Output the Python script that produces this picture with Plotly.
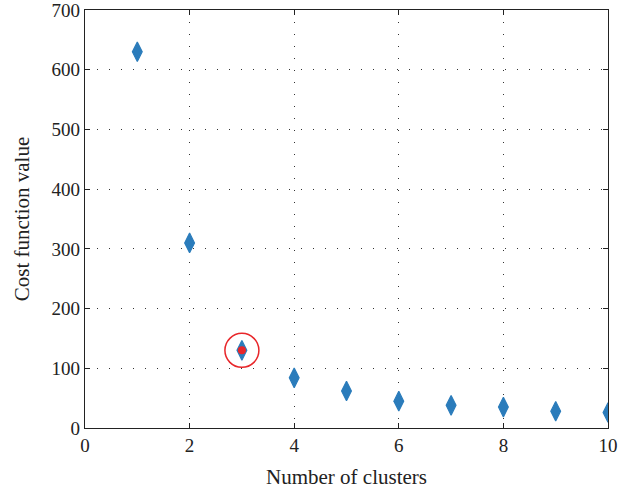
import plotly.graph_objects as go

clusters = [1, 2, 3, 4, 5, 6, 7, 8, 9, 10]
cost = [630, 310, 130, 84, 62, 45, 38, 35, 28, 26]
opt_k = [3]
opt_cost = [130]
x_ticks = [0, 2, 4, 6, 8, 10]
y_ticks = [0, 100, 200, 300, 400, 500, 600, 700]

blue = "#2B7CBB"
red = "#E8262A"
font = "Liberation Serif"

fig = go.Figure()
fig.add_trace(go.Scatter(
    x=clusters, y=cost, mode="markers",
    marker=dict(symbol="diamond-tall", size=14, color=blue, line=dict(width=1.2, color=blue)),
    showlegend=False))
fig.add_trace(go.Scatter(
    x=opt_k, y=opt_cost, mode="markers",
    marker=dict(symbol="circle-open", size=34, color=red, line=dict(width=1.5, color=red)),
    showlegend=False))
fig.add_trace(go.Scatter(
    x=opt_k, y=opt_cost, mode="markers",
    marker=dict(symbol="circle", size=8, color=red),
    showlegend=False))

axis_common = dict(
    showline=True, linecolor="#222", linewidth=1.2, mirror="ticks",
    ticks="inside", ticklen=5, tickcolor="#222",
    showgrid=True, gridcolor="#333", gridwidth=1, griddash="1px,11px",
    zeroline=False, automargin=False, ticklabeloverflow="allow",
    tickfont=dict(family=font, size=19, color="#222"),
)

fig.update_xaxes(range=[0, 10], tickvals=x_ticks,
                 title=dict(text="Number of clusters", font=dict(family=font, size=21, color="#222"), standoff=14),
                 **axis_common)
fig.update_yaxes(range=[0, 700], tickvals=y_ticks,
                 title=dict(text="Cost function value", font=dict(family=font, size=21, color="#222"), standoff=16),
                 **axis_common)

fig.update_layout(
    width=635, height=492,
    margin=dict(l=85, r=27, t=10, b=64),
    plot_bgcolor="white", paper_bgcolor="white",
)

fig.write_html("out.html", config={"displayModeBar": False},
               post_script="document.body.style.margin='0';")
